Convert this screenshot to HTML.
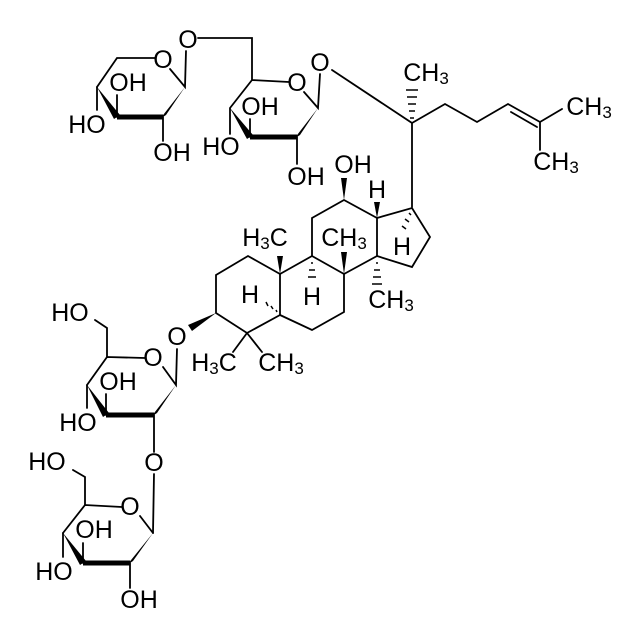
<!DOCTYPE html>
<html><head><meta charset="utf-8"><style>
html,body{margin:0;padding:0;background:#fff;}
svg{display:block;}
text{font-family:"Liberation Sans",Arial,sans-serif;font-size:25px;fill:#000;text-anchor:middle;dominant-baseline:central;}
tspan.s{font-size:17px;}
</style></head><body>
<svg width="640" height="639" viewBox="0 0 640 639" xmlns="http://www.w3.org/2000/svg">
<g stroke="#000" stroke-width="1.8" fill="none" stroke-linecap="round">
<path d="M155,58 L117,58 L97,87"/>
<path d="M170,69 L185,87 L186,51"/>
<path d="M97,87 L97,110 M117,117 L117,95 M163,117 L163,141"/>
<path d="M198,38 L252,38 L252,80 L289,82 M304,92 L318,108 L320,74"/>
<path d="M252,80 L230,108 M230,108 L230,134 M250,137 L250,119 M297,137 L297,164"/>
<path d="M332,70 L412,123 L412,207 M412,123 L445,104 L477,122 L508,104 L540,122 L562,109 M540,122 L540,150 M511,112 L537,127"/>
<path d="M216,313 L216,275 L248,256 L280,274 L280,315 L247,333 L216,313"/>
<path d="M280,274 L312,256 L344,274 L344,312 L312,330 L280,315"/>
<path d="M312,256 L312,218 L344,200 L377,218 L377,256 L344,274"/>
<path d="M377,218 L412,208 L430,237 L412,267 L377,256"/>
<path d="M247,333 L233,352 M247,333 L262,352"/>
<path d="M145,358 L107,357 L87,385 M163,367 L176,385 L177,349"/>
<path d="M107,357 L107,328 L95,320 M106,415 L106,394 M87,385 L87,408 M154,415 L154,452 M154,474 L153,533"/>
<path d="M122,507 L85,505 L63,533 M140,516 L153,533"/>
<path d="M85,505 L85,477 L73,470 M83,563 L83,543 M63,533 L63,557 M130,563 L130,588"/>
</g>
<g fill="#000">
<path d="M97,87 L114,119 L120,115 Z"/><path d="M117,114.5 L163,114.5 L163,119.5 L117,119.5 Z"/><path d="M160,119 L166,115 L185,87 Z"/>
<path d="M230,108 L247,139 L253,135 Z"/><path d="M250,134.5 L297,134.5 L297,139.5 L250,139.5 Z"/><path d="M294,139 L300,135 L318,108 Z"/>
<path d="M87,385 L103,417 L109,413 Z"/><path d="M106,412.5 L154,412.5 L154,417.5 L106,417.5 Z"/><path d="M151,417 L157,413 L176,385 Z"/>
<path d="M63,533 L80,565 L86,561 Z"/><path d="M83,560.5 L130,560.5 L130,565.5 L83,565.5 Z"/><path d="M127,565 L133,561 L153,533 Z"/>
<path d="M216,313 L188,325 L192,331 Z"/>
<path d="M280,274 L277,256 L283,256 Z"/>
<path d="M344,274 L341,252 L347,252 Z"/>
<path d="M344,200 L341,178 L347,178 Z"/>
<path d="M377,218 L374,202 L380,202 Z"/>
</g>
<g stroke="#000" stroke-width="1.5">
<path d="M410,118 L414,118 M409,111 L415,111 M408,104 L416,104 M407,97 L417,97 M406,90 L418,90"/>
<path d="M409,213 L411,215 M405,219 L409,222 M402,226 L406,229"/>
<path d="M311,263 L313,263 M309,270 L315,270 M308,277 L316,277"/>
<path d="M376,263 L378,263 M374,270 L380,270 M373,277 L381,277 M372,284 L382,284"/>
<path d="M276,310 L277,312 M271,306 L273,309 M266,302 L268,306"/>
</g>
<text x="163" y="60">O</text>
<text x="188" y="40">O</text>
<text x="128" y="83">OH</text>
<text x="87" y="125">HO</text>
<text x="172" y="153">OH</text>
<text x="297" y="83">O</text>
<text x="320" y="63">O</text>
<text x="260" y="107">OH</text>
<text x="221" y="147">HO</text>
<text x="306" y="177">OH</text>
<text x="353" y="165">OH</text>
<text x="377" y="190">H</text>
<text x="426" y="73">CH<tspan class="s" dy="5">3</tspan></text>
<text x="589" y="107">CH<tspan class="s" dy="5">3</tspan></text>
<text x="556" y="162">CH<tspan class="s" dy="5">3</tspan></text>
<text x="402" y="247">H</text>
<text x="344" y="238">CH<tspan class="s" dy="5">3</tspan></text>
<text x="391" y="300">CH<tspan class="s" dy="5">3</tspan></text>
<text x="312" y="297">H</text>
<text x="265" y="238">H<tspan class="s" dy="5">3</tspan><tspan dy="-5">C</tspan></text>
<text x="250" y="295">H</text>
<text x="214" y="363">H<tspan class="s" dy="5">3</tspan><tspan dy="-5">C</tspan></text>
<text x="281" y="363">CH<tspan class="s" dy="5">3</tspan></text>
<text x="177" y="337">O</text>
<text x="70" y="313">HO</text>
<text x="153" y="358">O</text>
<text x="118" y="382">OH</text>
<text x="78" y="423">HO</text>
<text x="154" y="463">O</text>
<text x="47" y="462">HO</text>
<text x="130" y="507">O</text>
<text x="94" y="530">OH</text>
<text x="54" y="572">HO</text>
<text x="139" y="600">OH</text>
</svg>
</body></html>
